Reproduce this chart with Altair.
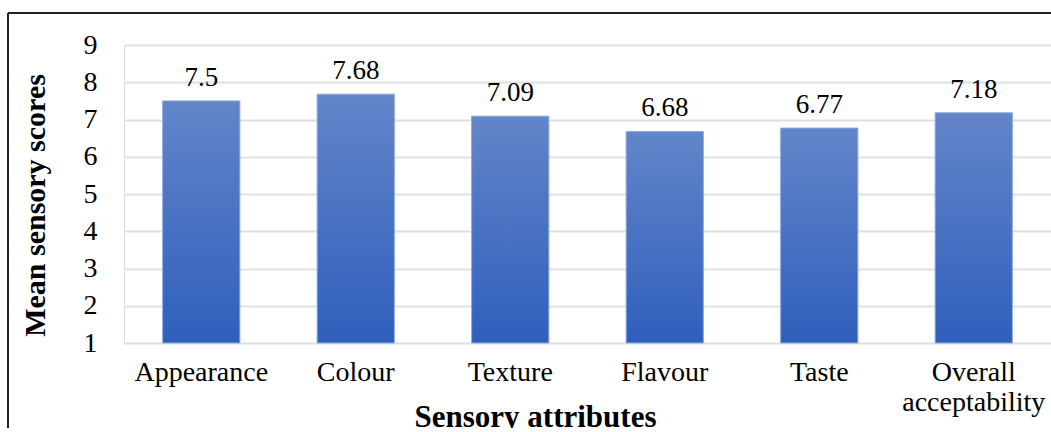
import altair as alt
import pandas as pd

categories = ["Appearance", "Colour", "Texture", "Flavour", "Taste", "Overall acceptability"]
scores = [7.5, 7.68, 7.09, 6.68, 6.77, 7.18]
y_ticks = [1, 2, 3, 4, 5, 6, 7, 8, 9]

df = pd.DataFrame({"attr": categories, "score": scores})

FONT = "Liberation Serif"
PLOT_W, PLOT_H = 927, 298

x_enc = alt.X(
    "attr:N", sort=categories, title="Sensory attributes",
    scale=alt.Scale(paddingInner=0.5, paddingOuter=0.25),
    axis=alt.Axis(
        labelAngle=0, labelFont=FONT, labelFontSize=28, labelColor="#000",
        labelPadding=15, labelLineHeight=30, ticks=False, domain=False,
        labelOverlap=False,
        labelExpr="datum.label == 'Overall acceptability' ? ['Overall', 'acceptability'] : datum.label",
        titleFont=FONT, titleFontSize=31, titleFontWeight="bold", titleColor="#000",
        titleX=411, titleY=74, titleBaseline="middle", titleAlign="center",
    ),
)
y_enc = alt.Y(
    "score:Q", title="Mean sensory scores",
    scale=alt.Scale(domain=[1, 9], zero=False, nice=False),
    axis=alt.Axis(
        values=y_ticks, tickCount=20, format="d", labelFont=FONT, labelFontSize=28,
        labelColor="#000", labelPadding=27, ticks=False, domain=False, labelOverlap=False,
        grid=True, gridColor="#dcdfe6", gridWidth=2,
        titleFont=FONT, titleFontSize=30, titleFontWeight="bold", titleColor="#000",
        titleX=-89, titleY=160, titleAngle=-90, titleBaseline="middle", titleAlign="center",
    ),
)

grad = alt.Gradient(
    gradient="linear", x1=0, x2=0, y1=0, y2=1,
    stops=[alt.GradientStop(color="#6385c9", offset=0),
           alt.GradientStop(color="#2f5fbc", offset=1)],
)

bars = alt.Chart(df).mark_bar(color=grad, stroke="#8eaadf", strokeWidth=1).encode(
    x=x_enc, y=y_enc, y2=alt.datum(1)
)
labels = alt.Chart(df).mark_text(
    font=FONT, fontSize=27, color="#000", baseline="alphabetic", dy=-15
).encode(
    x=alt.X("attr:N", sort=categories), y="score:Q", text=alt.Text("score:Q")
)

border_top = alt.Chart(df).mark_rule(color="#222", strokeWidth=1.5, clip=False).encode(
    x=alt.value(-116), x2=alt.value(PLOT_W + 10), y=alt.value(-32)
)
border_left = alt.Chart(df).mark_rule(color="#222", strokeWidth=1.5, clip=False).encode(
    x=alt.value(-116), y=alt.value(-32), y2=alt.value(PLOT_H + 120)
)

chart = alt.layer(bars, labels, border_top, border_left).properties(
    width=PLOT_W, height=PLOT_H,
    autosize=alt.AutoSizeParams(type="none"),
    padding={"left": 124, "top": 45, "right": 0, "bottom": 85},
).configure_view(stroke=None).configure(background="white")

chart.save("out.html", embed_options={"renderer": "svg", "actions": False})
